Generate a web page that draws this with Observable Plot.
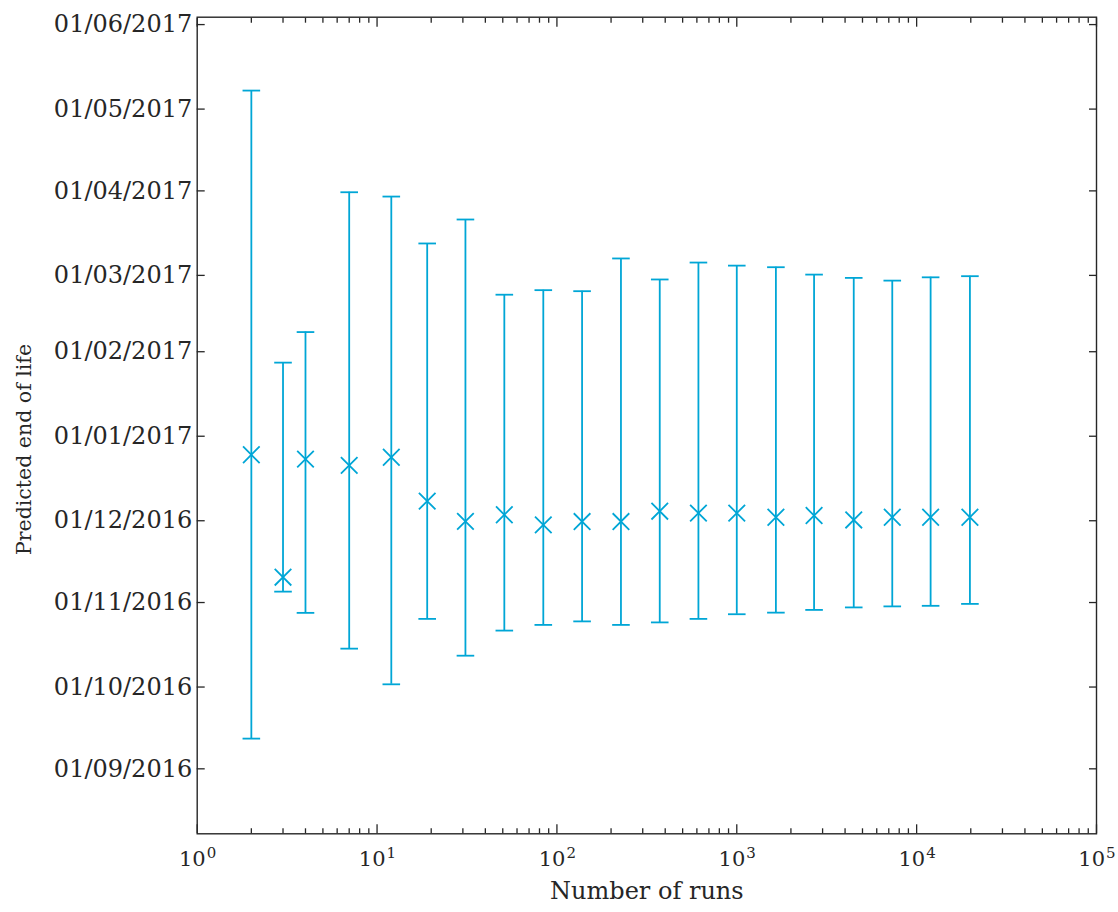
<!DOCTYPE html>
<html>
<head>
<meta charset="utf-8">
<script src="https://cdn.jsdelivr.net/npm/d3@7"></script>
<script src="https://cdn.jsdelivr.net/npm/@observablehq/plot@0.6"></script>
<style>
  html, body { margin: 0; padding: 0; background: #ffffff; }
  #chart svg { display: block; }
</style>
</head>
<body>
<div id="chart"></div>
<script>
// ---- data ----
const runs = [2, 3, 4, 7, 12, 19, 31, 51, 84, 138, 227, 373, 612, 1000, 1650, 2690, 4470, 7320, 11960, 19780];
const predicted = [
  "2016-12-25T05:00Z", "2016-11-10T07:00Z", "2016-12-23T14:00Z", "2016-12-21T07:00Z", "2016-12-24T07:00Z",
  "2016-12-08T05:00Z", "2016-11-30T19:00Z", "2016-12-03T05:00Z", "2016-11-29T12:00Z", "2016-11-30T17:00Z",
  "2016-11-30T17:00Z", "2016-12-04T12:00Z", "2016-12-03T19:00Z", "2016-12-03T19:00Z", "2016-12-02T07:00Z",
  "2016-12-02T22:00Z", "2016-12-01T07:00Z", "2016-12-02T07:00Z", "2016-12-02T07:00Z", "2016-12-02T07:00Z"
];
const lower = [
  "2016-09-12T02:00Z", "2016-11-05T00:00Z", "2016-10-28T05:00Z", "2016-10-15T02:00Z", "2016-10-02T00:00Z",
  "2016-10-26T00:00Z", "2016-10-12T12:00Z", "2016-10-21T17:00Z", "2016-10-23T19:00Z", "2016-10-25T02:00Z",
  "2016-10-23T19:00Z", "2016-10-24T17:00Z", "2016-10-26T00:00Z", "2016-10-27T17:00Z", "2016-10-28T07:00Z",
  "2016-10-29T07:00Z", "2016-10-30T05:00Z", "2016-10-30T14:00Z", "2016-10-30T19:00Z", "2016-10-31T12:00Z"
];
const upper = [
  "2017-05-07T19:00Z", "2017-01-28T00:00Z", "2017-02-08T05:00Z", "2017-03-31T12:00Z", "2017-03-29T22:00Z",
  "2017-03-12T17:00Z", "2017-03-21T12:00Z", "2017-02-21T22:00Z", "2017-02-23T14:00Z", "2017-02-23T05:00Z",
  "2017-03-07T05:00Z", "2017-02-27T12:00Z", "2017-03-05T17:00Z", "2017-03-04T14:00Z", "2017-03-04T00:00Z",
  "2017-03-01T07:00Z", "2017-02-28T02:00Z", "2017-02-27T02:00Z", "2017-02-28T07:00Z", "2017-02-28T17:00Z"
];

const yTickDates = ["2016-09-01", "2016-10-01", "2016-11-01", "2016-12-01", "2017-01-01",
                    "2017-02-01", "2017-03-01", "2017-04-01", "2017-05-01", "2017-06-01"];
const yTickLabels = ["01/09/2016", "01/10/2016", "01/11/2016", "01/12/2016", "01/01/2017",
                     "01/02/2017", "01/03/2017", "01/04/2017", "01/05/2017", "01/06/2017"];
const yDomain = ["2016-08-08T04:00Z", "2017-06-03T17:00Z"];

const xMajorTicks = [1, 10, 100, 1000, 10000, 100000];
const xTickBase = "10";
const xTickExponents = ["0", "1", "2", "3", "4", "5"];
const xMinorTicks = xMajorTicks.slice(0, -1).flatMap(p => [2, 3, 4, 5, 6, 7, 8, 9].map(m => m * p));

const xLabel = "Number of runs";
const yLabel = "Predicted end of life";

// ---- build table ----
const rows = runs.map((r, i) => ({
  runs: r,
  predicted: new Date(predicted[i]),
  lower: new Date(lower[i]),
  upper: new Date(upper[i])
}));
const yTicks = yTickDates.map(d => new Date(d + "T00:00Z"));
const yLabelMap = new Map(yTicks.map((d, i) => [+d, yTickLabels[i]]));

const BAR = "#00a6d6";
const INK = "#262626";
const FONT = "'DejaVu Serif', 'Liberation Serif', serif";

const capSymbol = {
  draw(context, size) {
    const r = Math.sqrt(size / Math.PI);
    context.moveTo(-r, 0);
    context.lineTo(r, 0);
  }
};

const tickOpts = { tickFormat: () => "", color: INK, strokeWidth: 1.3, label: null };

const chart = Plot.plot({
  width: 1118,
  height: 912,
  marginLeft: 196.7,
  marginRight: 22,
  marginTop: 16.7,
  marginBottom: 78.7,
  style: { fontFamily: FONT, background: "#ffffff", color: INK },
  x: { type: "log", domain: [1, 100000], axis: null, label: null },
  y: { type: "utc", domain: yDomain.map(d => new Date(d)), axis: null, label: null },
  marks: [
    // inward ticks on all four sides
    Plot.axisX({ anchor: "bottom", ticks: xMajorTicks, tickSize: -9, ...tickOpts }),
    Plot.axisX({ anchor: "bottom", ticks: xMinorTicks, tickSize: -5, ...tickOpts }),
    Plot.axisX({ anchor: "top", ticks: xMajorTicks, tickSize: -9, ...tickOpts }),
    Plot.axisX({ anchor: "top", ticks: xMinorTicks, tickSize: -5, ...tickOpts }),
    Plot.axisY({ anchor: "left", ticks: yTicks, tickSize: -8, ...tickOpts }),
    Plot.axisY({ anchor: "right", ticks: yTicks, tickSize: -8, ...tickOpts }),
    // y tick labels
    Plot.axisY({ anchor: "left", ticks: yTicks, tickSize: 0, tickPadding: 5, label: null,
                 tickFormat: d => yLabelMap.get(+d), fontSize: 24, color: INK }),
    // x tick labels 10^k
    Plot.text(xMajorTicks, { x: d => d, frameAnchor: "bottom", text: () => xTickBase, lineAnchor: "middle",
                             textAnchor: "end", dx: 8.5, dy: 25, fontSize: 21, fill: INK }),
    Plot.text(xMajorTicks, { x: d => d, frameAnchor: "bottom", text: (d, i) => xTickExponents[i], lineAnchor: "middle",
                             textAnchor: "start", dx: 9.5, dy: 19, fontSize: 15, fill: INK }),
    // axis titles
    Plot.text([xLabel], { frameAnchor: "bottom", lineAnchor: "middle", textAnchor: "middle",
                          dy: 58, fontSize: 24, fill: INK }),
    Plot.text([yLabel], { frameAnchor: "left", lineAnchor: "middle", textAnchor: "middle",
                          rotate: -90, dx: -172.7, dy: 24, fontSize: 20.5, fill: INK }),
    // error bars
    Plot.ruleX(rows, { x: "runs", y1: "lower", y2: "upper", stroke: BAR, strokeWidth: 1.8 }),
    Plot.dot(rows, { x: "runs", y: "upper", symbol: capSymbol, r: 8.8, fill: "none", stroke: BAR, strokeWidth: 1.8 }),
    Plot.dot(rows, { x: "runs", y: "lower", symbol: capSymbol, r: 8.8, fill: "none", stroke: BAR, strokeWidth: 1.8 }),
    Plot.dot(rows, { x: "runs", y: "predicted", symbol: "times", r: 7.6, stroke: BAR, strokeWidth: 1.8 }),
    Plot.frame({ stroke: INK, strokeWidth: 1.4 })
  ]
});

document.getElementById("chart").appendChild(chart);
</script>
</body>
</html>
